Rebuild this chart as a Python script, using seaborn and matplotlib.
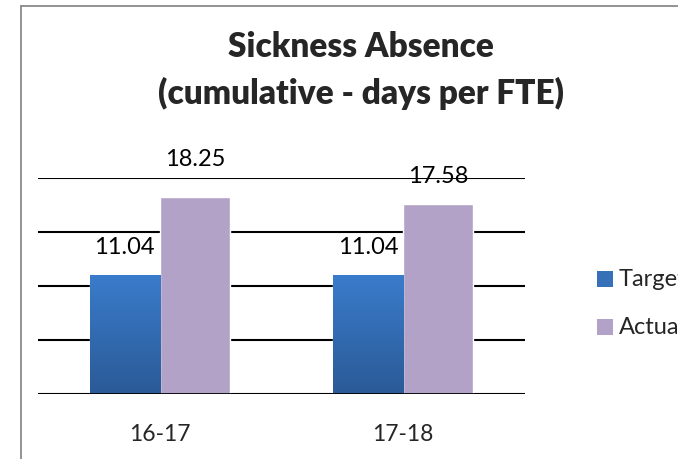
import numpy as np
import pandas as pd
import matplotlib
matplotlib.use("Agg")
import matplotlib.pyplot as plt
import seaborn as sns
from matplotlib.patches import Rectangle
from matplotlib.lines import Line2D
from matplotlib.colors import LinearSegmentedColormap

periods = ["16-17", "17-18"]
series_names = ["Target", "Actual"]
target_vals = [11.04, 11.04]
actual_vals = [18.25, 17.58]

sns.set_theme(style="white")
plt.rcParams["font.family"] = ["Lato", "DejaVu Sans"]

df = pd.DataFrame({
    "period": periods * 2,
    "series": [series_names[0]] * 2 + [series_names[1]] * 2,
    "value": target_vals + actual_vals,
})

blue = "#3570b8"
purple = "#b3a2c7"

fig = plt.figure(figsize=(6.78, 4.6), dpi=100)
ax = fig.add_axes([38/678, 1-395/460, (525-38)/678, (395-179)/460])

sns.barplot(data=df, x="period", y="value", hue="series", palette=[blue, purple],
            width=0.575, saturation=1, ax=ax, legend=False, zorder=3)

ax.set_ylim(0, 20)
ax.set_yticks([0, 5, 10, 15, 20])
ax.yaxis.grid(True, color="black", lw=1.5)
ax.set_axisbelow(True)
ax.set_yticklabels([])
ax.tick_params(axis="y", length=0)
ax.tick_params(axis="x", length=0, pad=21, labelsize=16.5)
for s in ax.spines.values():
    s.set_visible(False)
ax.set_xlabel("")
ax.set_ylabel("")
ax.axhline(0, color="black", lw=2, zorder=4)

# gradient on target bars
cmap = LinearSegmentedColormap.from_list("g", ["#2b5a97", "#3a7ccb"])
grad = np.linspace(0, 1, 256).reshape(-1, 1)
for p in ax.containers[0]:
    x0, y0 = p.get_x(), p.get_y()
    w, h = p.get_width(), p.get_height()
    im = ax.imshow(grad, extent=[x0, x0 + w, y0, y0 + h], origin="lower",
                   cmap=cmap, aspect="auto", zorder=3.5)
    im.set_clip_path(p)
ax.set_xlim(-0.5, 1.5)
ax.set_ylim(0, 20)

# data labels
offsets = {0: [28, 28], 1: [38, 29]}
for ci, cont in enumerate(ax.containers):
    for bi, p in enumerate(cont):
        val = p.get_height()
        ax.annotate(f"{val:.2f}", (p.get_x() + p.get_width()/2, val),
                    xytext=(0, offsets[ci][bi]*0.72), textcoords="offset points",
                    ha="center", va="center", fontsize=17, color="black",
                    annotation_clip=False, zorder=6)

# title
fig.text(361/678, 1-47/460, "Sickness Absence", ha="center", va="center",
         fontsize=24, fontweight="heavy")
fig.text(361/678, 1-93/460, "(cumulative - days per FTE)", ha="center", va="center",
         fontsize=24, fontweight="heavy")

# legend (clipped at right edge)
for i, (name, col) in enumerate(zip(series_names, [blue, purple])):
    yc = 1 - (280 + i*48)/460
    fig.patches.append(Rectangle((597/678, yc - 8/460), 16/678, 16/460,
                                 transform=fig.transFigure, facecolor=col,
                                 edgecolor="none"))
    fig.text(619/678, yc, name, ha="left", va="center", fontsize=17)

# chart frame
fig.add_artist(Line2D([21/678, 21/678], [0, 1-7/460], transform=fig.transFigure,
                      color="#808080", lw=1.2))
fig.add_artist(Line2D([21/678, 1], [1-7/460, 1-7/460], transform=fig.transFigure,
                      color="#808080", lw=1.2))

fig.savefig("out.png", dpi=100)
